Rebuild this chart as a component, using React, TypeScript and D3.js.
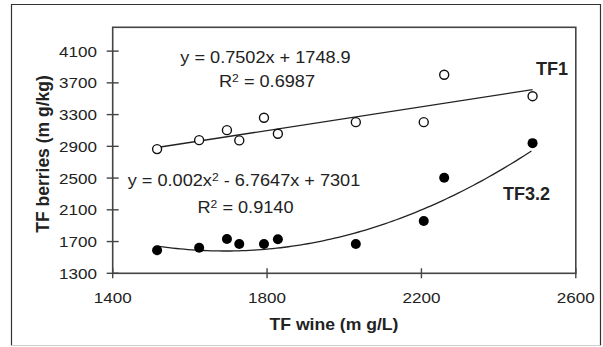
import * as d3 from "d3";
import { useEffect, useRef } from "react";

// TF wine (mg/L) per sample, shared by both series
const wine = [1515, 1624, 1696, 1728, 1792, 1828, 2030, 2206, 2259, 2488];
// TF berries (mg/kg)
const tf1 = [2865, 2978, 3104, 2975, 3260, 3059, 3205, 3205, 3802, 3532];
const tf32 = [1590, 1623, 1732, 1669, 1669, 1728, 1669, 1958, 2505, 2940];

// trendline coefficients as printed on the chart
const linCoef = { a: 0.7502, b: 1748.9 };
const polyCoef = { a: 0.002, b: -6.7647, c: 7301 };

const xTicks = [1400, 1800, 2200, 2600];
const yTicks = [1300, 1700, 2100, 2500, 2900, 3300, 3700, 4100];

const FONT = "'Liberation Sans', Arial, sans-serif";
const SX = 1.1; // the original picture is a bit stretched sideways

export default function App() {
  const ref = useRef<SVGSVGElement | null>(null);

  useEffect(() => {
    const svg = d3.select(ref.current as SVGSVGElement);
    svg.selectAll("*").remove();

    const width = 603;
    const height = 347;
    svg.attr("width", width).attr("height", height);

    svg
      .append("rect")
      .attr("width", width)
      .attr("height", height)
      .attr("fill", "#fff");

    // outer frame
    svg
      .append("path")
      .attr("d", "M11.5,345.5 V4.5 H600.5 V345.5")
      .attr("fill", "none")
      .attr("stroke", "#333")
      .attr("stroke-width", 1.2);
    svg
      .append("line")
      .attr("x1", 11.5)
      .attr("x2", 600.5)
      .attr("y1", 345.5)
      .attr("y2", 345.5)
      .attr("stroke", "#ccc");

    const x = d3.scaleLinear().domain([1400, 2600]).range([112.7, 575.8]);
    const y = d3.scaleLinear().domain([1300, 4400]).range([273.3, 27.3]);

    // text helper: stretched horizontally like the source image
    const addText = (
      tx: number,
      ty: number,
      size: number,
      weight: string,
      anchor: string,
      sx = SX
    ) =>
      svg
        .append("g")
        .attr("transform", `translate(${tx},${ty}) scale(${sx},1)`)
        .append("text")
        .attr("text-anchor", anchor)
        .attr("font-family", FONT)
        .attr("font-size", size)
        .attr("font-weight", weight)
        .attr("fill", "#222");

    // plot border
    svg
      .append("rect")
      .attr("x", x(1400))
      .attr("y", y(4400))
      .attr("width", x(2600) - x(1400))
      .attr("height", y(1300) - y(4400))
      .attr("fill", "none")
      .attr("stroke", "#444")
      .attr("stroke-width", 1.6);

    // y ticks (crossing the axis)
    svg
      .append("g")
      .selectAll("line")
      .data(yTicks)
      .enter()
      .append("line")
      .attr("x1", x(1400) - 6)
      .attr("x2", x(1400) + 6)
      .attr("y1", (d) => y(d))
      .attr("y2", (d) => y(d))
      .attr("stroke", "#444")
      .attr("stroke-width", 1.4);
    yTicks.forEach((d) => {
      addText(97, y(d), 15.5, "normal", "end").attr("dy", "0.36em").text(d);
    });

    // x ticks
    svg
      .append("g")
      .selectAll("line")
      .data(xTicks)
      .enter()
      .append("line")
      .attr("x1", (d) => x(d))
      .attr("x2", (d) => x(d))
      .attr("y1", y(1300) - 5)
      .attr("y2", y(1300) + 5)
      .attr("stroke", "#444")
      .attr("stroke-width", 1.4);
    xTicks.forEach((d) => {
      addText(x(d), 302.5, 15.5, "normal", "middle").text(d);
    });

    // trendlines
    const xMin = d3.min(wine) as number;
    const xMax = d3.max(wine) as number;
    const line = d3
      .line<number>()
      .x((d) => x(d))
      .y((d) => y(linCoef.a * d + linCoef.b));
    svg
      .append("path")
      .datum([xMin, xMax])
      .attr("d", line)
      .attr("fill", "none")
      .attr("stroke", "#222")
      .attr("stroke-width", 1.3);

    const xs = d3.range(xMin, xMax + 1, 10);
    const curve = d3
      .line<number>()
      .x((d) => x(d))
      .y((d) => y(polyCoef.a * d * d + polyCoef.b * d + polyCoef.c));
    svg
      .append("path")
      .datum(xs)
      .attr("d", curve)
      .attr("fill", "none")
      .attr("stroke", "#222")
      .attr("stroke-width", 1.3);

    // points
    svg
      .append("g")
      .selectAll("circle")
      .data(wine)
      .enter()
      .append("circle")
      .attr("cx", (d) => x(d))
      .attr("cy", (_d, i) => y(tf1[i]))
      .attr("r", 4.5)
      .attr("fill", "#fff")
      .attr("stroke", "#111")
      .attr("stroke-width", 1.4);
    svg
      .append("g")
      .selectAll("circle")
      .data(wine)
      .enter()
      .append("circle")
      .attr("cx", (d) => x(d))
      .attr("cy", (_d, i) => y(tf32[i]))
      .attr("r", 5)
      .attr("fill", "#000");

    // equation labels
    addText(265.5, 62.5, 16.5, "normal", "middle").text("y = 0.7502x + 1748.9");
    const r1 = addText(267, 86.5, 16.5, "normal", "middle");
    r1.append("tspan").text("R");
    r1.append("tspan").attr("font-size", 11).attr("dy", -5).text("2");
    r1.append("tspan").attr("dy", 5).text(" = 0.6987");

    const e2 = addText(244, 185.5, 16.5, "normal", "middle");
    e2.append("tspan").text("y = 0.002x");
    e2.append("tspan").attr("font-size", 11).attr("dy", -5).text("2");
    e2.append("tspan").attr("dy", 5).text(" - 6.7647x + 7301");
    const r2 = addText(245.5, 213, 16.5, "normal", "middle");
    r2.append("tspan").text("R");
    r2.append("tspan").attr("font-size", 11).attr("dy", -5).text("2");
    r2.append("tspan").attr("dy", 5).text(" = 0.9140");

    addText(536, 75, 18, "bold", "start", 1).text("TF1");
    addText(503, 199.5, 18, "bold", "start", 1).text("TF3.2");

    // axis titles
    addText(334, 329.5, 16, "bold", "middle").text("TF wine (m g/L)");
    svg
      .append("text")
      .attr("transform", "translate(49,154) rotate(-90)")
      .attr("text-anchor", "middle")
      .attr("font-family", FONT)
      .attr("font-size", 17.5)
      .attr("font-weight", "bold")
      .attr("fill", "#222")
      .text("TF berries (m g/kg)");
  }, []);

  return <svg ref={ref} style={{ position: "absolute", left: 0, top: 0 }} />;
}
